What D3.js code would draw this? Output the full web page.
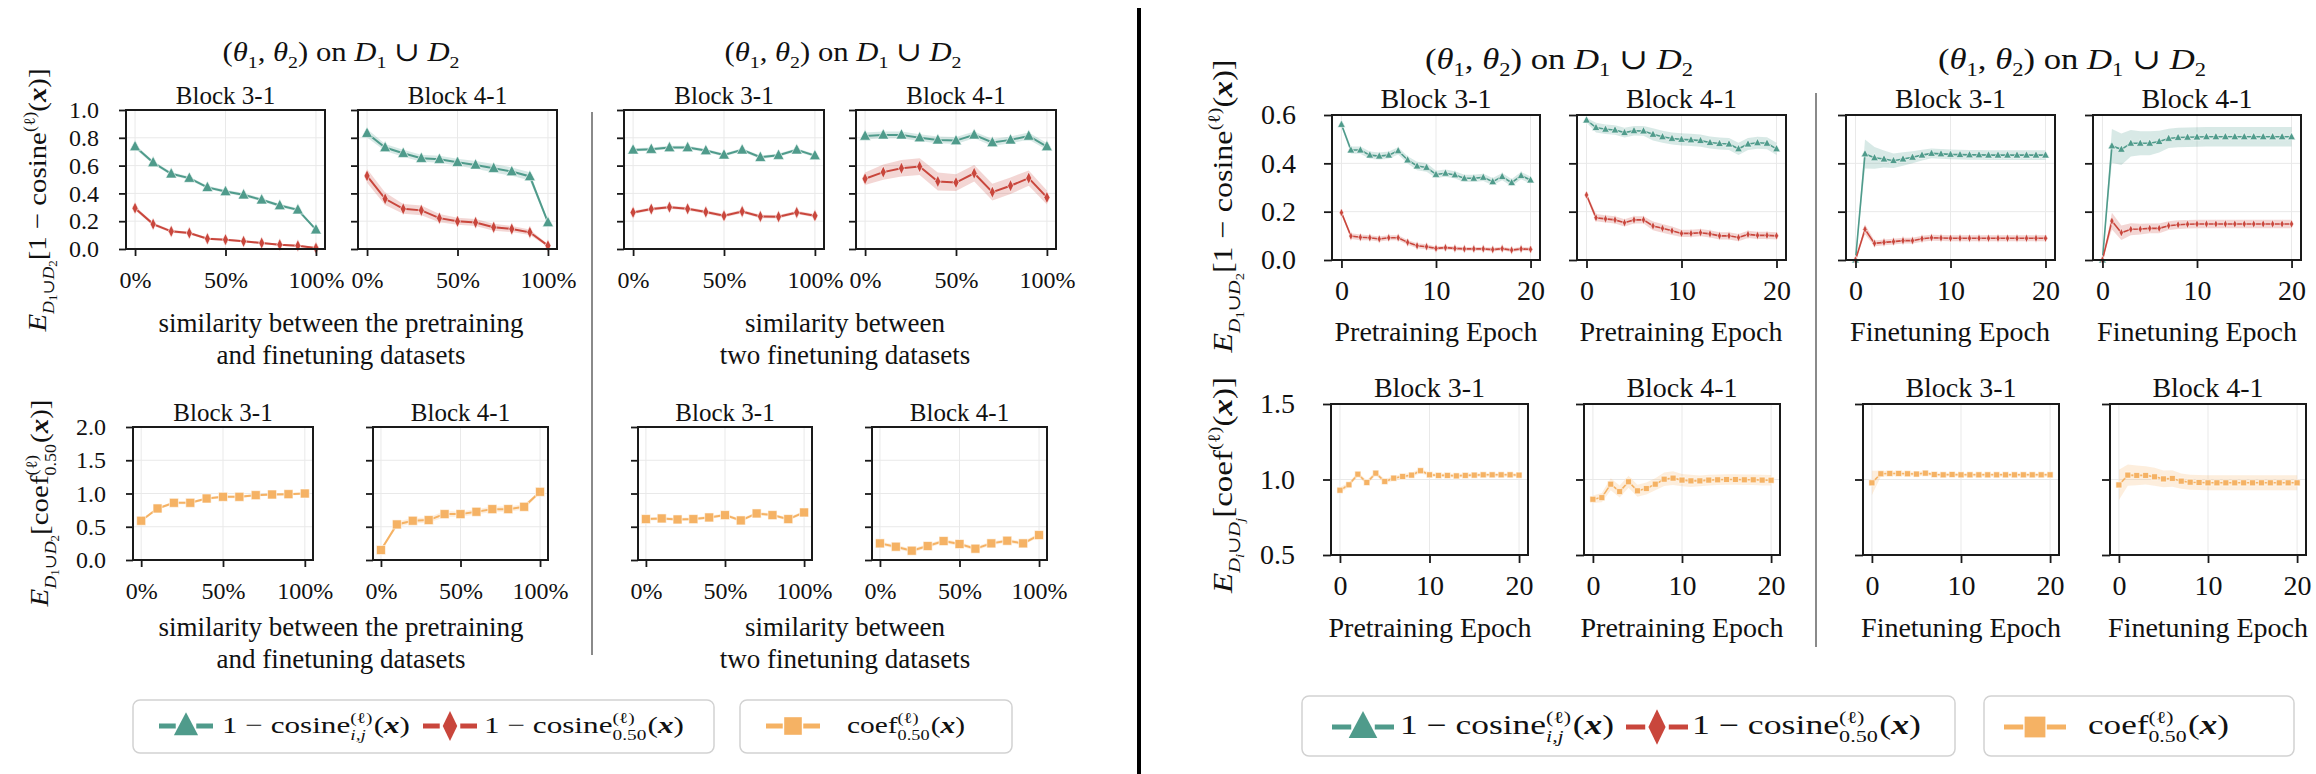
<!DOCTYPE html>
<html>
<head>
<meta charset="utf-8">
<script src="https://cdn.jsdelivr.net/npm/d3@7"></script>
<style>
body { margin: 0; background: #fff; }
svg text { font-family: "Liberation Serif", "DejaVu Serif", serif; fill: #111; }
</style>
</head>
<body>
<div id="chart"></div>
<script>
// x values
const simLevels = [0, 10, 20, 30, 40, 50, 60, 70, 80, 90, 100];
const epochs = [0, 1, 2, 3, 4, 5, 6, 7, 8, 9, 10, 11, 12, 13, 14, 15, 16, 17, 18, 19, 20];

// tick values
const pctTicks = [0, 50, 100];
const epochTicks = [0, 10, 20];
const cosTicksLeft = [0, 0.2, 0.4, 0.6, 0.8, 1.0];
const coefTicksLeft = [0, 0.5, 1.0, 1.5, 2.0];
const cosTicksRight = [0, 0.2, 0.4, 0.6];
const coefTicksRight = [0.5, 1.0, 1.5];
const blockNames = ["Block 3-1", "Block 4-1"];

// left: similarity between the pretraining and finetuning datasets
const cosPairPF3 = [0.737, 0.622, 0.541, 0.51, 0.443, 0.414, 0.39, 0.354, 0.313, 0.282, 0.139];
const cosPairPF3Err = [0.015, 0.013, 0.013, 0.012, 0.012, 0.012, 0.012, 0.012, 0.012, 0.012, 0.01];
const cosMedPF3 = [0.294, 0.179, 0.127, 0.115, 0.074, 0.067, 0.055, 0.043, 0.031, 0.024, 0.007];
const cosMedPF3Err = [0.016, 0.012, 0.01, 0.01, 0.008, 0.008, 0.008, 0.007, 0.007, 0.007, 0.005];
const cosPairPF4 = [0.833, 0.73, 0.689, 0.653, 0.646, 0.624, 0.605, 0.581, 0.557, 0.522, 0.191];
const cosPairPF4Err = [0.03, 0.025, 0.025, 0.025, 0.025, 0.025, 0.028, 0.03, 0.03, 0.03, 0.01];
const cosMedPF4 = [0.526, 0.361, 0.289, 0.278, 0.222, 0.199, 0.191, 0.156, 0.144, 0.12, 0.024];
const cosMedPF4Err = [0.05, 0.045, 0.035, 0.035, 0.03, 0.025, 0.025, 0.025, 0.022, 0.02, 0.01];
// left: similarity between two finetuning datasets
const cosPairFF3 = [0.713, 0.718, 0.73, 0.73, 0.708, 0.677, 0.713, 0.66, 0.675, 0.713, 0.672];
const cosPairFF3Err = [0.012, 0.012, 0.012, 0.012, 0.012, 0.012, 0.012, 0.012, 0.012, 0.012, 0.012];
const cosMedFF3 = [0.263, 0.287, 0.301, 0.289, 0.266, 0.239, 0.27, 0.234, 0.232, 0.263, 0.239];
const cosMedFF3Err = [0.012, 0.012, 0.012, 0.012, 0.012, 0.012, 0.012, 0.012, 0.012, 0.012, 0.012];
const cosPairFF4 = [0.813, 0.821, 0.821, 0.801, 0.785, 0.78, 0.821, 0.766, 0.785, 0.813, 0.737];
const cosPairFF4Err = [0.025, 0.025, 0.025, 0.025, 0.025, 0.025, 0.025, 0.025, 0.025, 0.025, 0.025];
const cosMedFF4 = [0.505, 0.553, 0.581, 0.593, 0.486, 0.478, 0.545, 0.409, 0.455, 0.51, 0.371];
const cosMedFF4Err = [0.045, 0.055, 0.06, 0.06, 0.065, 0.06, 0.06, 0.06, 0.06, 0.055, 0.05];
const coefPF3 = [0.59, 0.775, 0.86, 0.86, 0.925, 0.95, 0.95, 0.975, 0.985, 0.99, 1.0];
const coefPF3Err = [0.02, 0.02, 0.02, 0.02, 0.02, 0.02, 0.02, 0.02, 0.02, 0.02, 0.02];
const coefPF4 = [0.15, 0.535, 0.59, 0.6, 0.69, 0.69, 0.725, 0.765, 0.765, 0.8, 1.025];
const coefPF4Err = [0.02, 0.04, 0.04, 0.04, 0.045, 0.04, 0.04, 0.04, 0.04, 0.04, 0.02];
const coefFF3 = [0.615, 0.625, 0.61, 0.615, 0.64, 0.675, 0.595, 0.7, 0.675, 0.615, 0.715];
const coefFF3Err = [0.025, 0.025, 0.025, 0.025, 0.025, 0.025, 0.025, 0.025, 0.025, 0.025, 0.025];
const coefFF4 = [0.25, 0.2, 0.14, 0.21, 0.285, 0.24, 0.17, 0.25, 0.29, 0.25, 0.375];
const coefFF4Err = [0.03, 0.03, 0.03, 0.03, 0.03, 0.03, 0.03, 0.03, 0.03, 0.03, 0.03];

// right: pretraining epoch
const cosPairPre3 = [0.561, 0.455, 0.455, 0.434, 0.43, 0.434, 0.452, 0.414, 0.389, 0.383, 0.354, 0.359, 0.352, 0.338, 0.338, 0.342, 0.324, 0.345, 0.32, 0.349, 0.331];
const cosPairPre3Err = [0.01, 0.015, 0.015, 0.015, 0.015, 0.015, 0.015, 0.015, 0.018, 0.018, 0.015, 0.015, 0.015, 0.015, 0.015, 0.015, 0.015, 0.015, 0.015, 0.015, 0.015];
const cosMedPre3 = [0.196, 0.099, 0.094, 0.092, 0.087, 0.092, 0.092, 0.073, 0.059, 0.055, 0.048, 0.051, 0.048, 0.046, 0.046, 0.046, 0.043, 0.047, 0.041, 0.046, 0.044];
const cosMedPre3Err = [0.008, 0.012, 0.012, 0.01, 0.01, 0.01, 0.01, 0.01, 0.01, 0.01, 0.008, 0.008, 0.008, 0.008, 0.008, 0.008, 0.008, 0.008, 0.008, 0.008, 0.008];
const cosPairPre4 = [0.579, 0.548, 0.541, 0.538, 0.527, 0.535, 0.534, 0.52, 0.51, 0.503, 0.499, 0.497, 0.494, 0.486, 0.482, 0.48, 0.46, 0.48, 0.485, 0.483, 0.46];
const cosPairPre4Err = [0.01, 0.02, 0.02, 0.02, 0.02, 0.02, 0.02, 0.025, 0.025, 0.025, 0.025, 0.025, 0.025, 0.025, 0.025, 0.025, 0.025, 0.025, 0.025, 0.025, 0.025];
const cosMedPre4 = [0.269, 0.175, 0.17, 0.166, 0.154, 0.166, 0.166, 0.141, 0.131, 0.121, 0.11, 0.11, 0.113, 0.108, 0.1, 0.1, 0.093, 0.106, 0.102, 0.102, 0.1];
const cosMedPre4Err = [0.01, 0.015, 0.015, 0.015, 0.015, 0.015, 0.015, 0.018, 0.018, 0.018, 0.015, 0.015, 0.015, 0.015, 0.015, 0.015, 0.015, 0.015, 0.015, 0.015, 0.015];
// right: finetuning epoch
const cosPairFt3 = [0.0, 0.439, 0.423, 0.418, 0.411, 0.418, 0.425, 0.434, 0.441, 0.439, 0.437, 0.436, 0.435, 0.435, 0.434, 0.434, 0.434, 0.434, 0.434, 0.434, 0.434];
const cosPairFt3Err = [0.0, 0.06, 0.045, 0.035, 0.03, 0.028, 0.025, 0.022, 0.02, 0.02, 0.02, 0.02, 0.02, 0.02, 0.02, 0.02, 0.02, 0.02, 0.02, 0.02, 0.02];
const cosMedFt3 = [0.0, 0.127, 0.069, 0.073, 0.076, 0.08, 0.08, 0.088, 0.092, 0.091, 0.09, 0.09, 0.09, 0.09, 0.09, 0.09, 0.09, 0.09, 0.09, 0.09, 0.09];
const cosMedFt3Err = [0.0, 0.02, 0.012, 0.012, 0.012, 0.012, 0.012, 0.012, 0.012, 0.012, 0.012, 0.012, 0.012, 0.012, 0.012, 0.012, 0.012, 0.012, 0.012, 0.012, 0.012];
const cosPairFt4 = [0.0, 0.472, 0.458, 0.483, 0.483, 0.483, 0.49, 0.503, 0.507, 0.508, 0.509, 0.51, 0.51, 0.51, 0.51, 0.51, 0.51, 0.51, 0.51, 0.51, 0.51];
const cosPairFt4Err = [0.0, 0.07, 0.065, 0.055, 0.05, 0.05, 0.045, 0.04, 0.04, 0.04, 0.04, 0.04, 0.04, 0.04, 0.04, 0.04, 0.04, 0.04, 0.04, 0.04, 0.04];
const cosMedFt4 = [0.0, 0.161, 0.113, 0.127, 0.128, 0.131, 0.131, 0.142, 0.146, 0.148, 0.149, 0.149, 0.149, 0.149, 0.149, 0.149, 0.149, 0.149, 0.149, 0.149, 0.149];
const cosMedFt4Err = [0.0, 0.035, 0.03, 0.025, 0.022, 0.02, 0.02, 0.018, 0.018, 0.018, 0.018, 0.018, 0.018, 0.018, 0.018, 0.018, 0.018, 0.018, 0.018, 0.018, 0.018];
const coefPre3 = [0.929, 0.965, 1.035, 0.98, 1.042, 0.987, 1.009, 1.02, 1.029, 1.058, 1.031, 1.027, 1.027, 1.024, 1.027, 1.029, 1.031, 1.031, 1.031, 1.031, 1.029];
const coefPre3Err = [0.02, 0.015, 0.015, 0.015, 0.015, 0.015, 0.015, 0.015, 0.015, 0.015, 0.012, 0.012, 0.012, 0.012, 0.012, 0.012, 0.012, 0.012, 0.012, 0.012, 0.012];
const coefPre4 = [0.869, 0.88, 0.969, 0.92, 0.985, 0.925, 0.94, 0.969, 1.002, 1.009, 0.996, 0.991, 0.991, 0.996, 0.998, 1.0, 1.0, 0.998, 0.998, 0.996, 0.995];
const coefPre4Err = [0.025, 0.03, 0.04, 0.04, 0.04, 0.04, 0.04, 0.04, 0.045, 0.045, 0.04, 0.04, 0.035, 0.035, 0.035, 0.035, 0.035, 0.035, 0.035, 0.035, 0.035];
const coefFt3 = [0.978, 1.038, 1.04, 1.04, 1.038, 1.036, 1.042, 1.033, 1.031, 1.033, 1.031, 1.031, 1.031, 1.031, 1.031, 1.031, 1.031, 1.031, 1.031, 1.031, 1.031];
const coefFt3Err = [0.08, 0.02, 0.015, 0.015, 0.015, 0.015, 0.015, 0.012, 0.012, 0.012, 0.012, 0.012, 0.012, 0.012, 0.012, 0.012, 0.012, 0.012, 0.012, 0.012, 0.012];
const coefFt4 = [0.964, 1.029, 1.027, 1.027, 1.018, 1.004, 1.007, 0.989, 0.982, 0.98, 0.978, 0.978, 0.978, 0.978, 0.978, 0.978, 0.978, 0.978, 0.978, 0.978, 0.978];
const coefFt4Err = [0.1, 0.07, 0.065, 0.06, 0.06, 0.055, 0.055, 0.05, 0.05, 0.05, 0.05, 0.05, 0.05, 0.05, 0.05, 0.05, 0.05, 0.05, 0.05, 0.05, 0.05];

const TEAL = "#4f9b8b", RED = "#c9463c", ORANGE = "#f5b264";
const GRID = "#e9e9e9", INK = "#1a1a1a";
const SERIF = "'Liberation Serif', 'DejaVu Serif', serif";

const W = 2316, H = 774;
const svg = d3.select("#chart").append("svg").attr("width", W).attr("height", H);
const defs = svg.append("defs");

// keep spaces when pieces are measured one by one
const nb = s => s.replace(/ /g, "\u00A0");

// lays out a row of text pieces (sub/superscripts, italic, bold) and places it
function mathText(parent, pieces, fs, opt) {
	const g = parent.append("g").attr("font-family", SERIF);
	let cx = 0;
	pieces.forEach(p => {
		if (typeof p === "string") p = {t: p};
		if (p.sup !== undefined || p.sub !== undefined) {
			let w = 0;
			if (p.sup) {
				const t = g.append("text").attr("x", cx).attr("y", -0.42 * fs).attr("font-size", fs * 0.62).text(nb(p.sup));
				w = Math.max(w, t.node().getComputedTextLength());
			}
			if (p.sub) {
				const t = g.append("text").attr("x", cx).attr("y", 0.3 * fs).attr("font-size", fs * 0.62).text(nb(p.sub));
				if (p.subIt) t.attr("font-style", "italic");
				w = Math.max(w, t.node().getComputedTextLength());
			}
			cx += w + fs * 0.04;
		} else {
			const t = g.append("text").attr("x", cx).attr("y", (p.dy || 0) * fs)
				.attr("font-size", fs * (p.size || 1)).text(nb(p.t));
			if (p.it) t.attr("font-style", "italic");
			if (p.bold) t.attr("font-weight", "bold");
			cx += t.node().getComputedTextLength();
		}
	});
	const sx = opt.width ? opt.width / cx : 1;
	const ax = opt.anchor === "start" ? 0 : cx / 2;
	const rot = opt.rotate ? ` rotate(${opt.rotate})` : "";
	g.attr("transform", `translate(${opt.x},${opt.y})${rot} scale(${sx},1) translate(${-ax},0)`);
	return g;
}

function markerPath(kind, s) {
	if (kind === "tri") return `M0,${-s * 0.62}L${s * 0.55},${s * 0.42}L${-s * 0.55},${s * 0.42}Z`;
	if (kind === "dia") return `M0,${-s * 0.62}L${s * 0.3},0L0,${s * 0.62}L${-s * 0.3},0Z`;
	return `M${-s / 2},${-s / 2}h${s}v${s}h${-s}Z`;
}

let clipId = 0;
function drawPanel(p) {
	const g = svg.append("g");
	const ext = d3.extent(p.xs);
	const pad = (ext[1] - ext[0]) * 0.05;
	const x = d3.scaleLinear().domain([ext[0] - pad, ext[1] + pad]).range([p.x0, p.x1]);
	const y = d3.scaleLinear().domain(d3.extent(p.yTicks)).range([p.y1, p.y0]);

	// grid
	g.append("g").selectAll("line").data(p.xTicks).join("line")
		.attr("x1", d => x(d)).attr("x2", d => x(d)).attr("y1", p.y0).attr("y2", p.y1)
		.attr("stroke", GRID).attr("stroke-width", 1);
	g.append("g").selectAll("line").data(p.yTicks).join("line")
		.attr("x1", p.x0).attr("x2", p.x1).attr("y1", d => y(d)).attr("y2", d => y(d))
		.attr("stroke", GRID).attr("stroke-width", 1);

	const id = "clip" + (clipId++);
	defs.append("clipPath").attr("id", id).append("rect")
		.attr("x", p.x0).attr("y", p.y0).attr("width", p.x1 - p.x0).attr("height", p.y1 - p.y0);
	const plot = g.append("g").attr("clip-path", `url(#${id})`);

	p.series.forEach(s => {
		const pts = p.xs.map((xv, i) => ({x: xv, y: s.vals[i], e: s.err[i]}));
		const area = d3.area().x(d => x(d.x)).y0(d => y(d.y - d.e)).y1(d => y(d.y + d.e));
		const line = d3.line().x(d => x(d.x)).y(d => y(d.y));
		plot.append("path").attr("d", area(pts)).attr("fill", s.color).attr("fill-opacity", 0.22);
		plot.append("path").attr("d", line(pts)).attr("fill", "none")
			.attr("stroke", s.color).attr("stroke-width", p.lw);
		g.append("g").selectAll("path").data(pts).join("path")
			.attr("transform", d => `translate(${x(d.x)},${y(d.y)})`)
			.attr("d", markerPath(s.mark, p.ms))
			.attr("fill", s.color).attr("stroke", "#fff").attr("stroke-width", 0.6);
	});

	const ya = d3.axisLeft(y).tickValues(p.yTicks).tickSize(p.tick).tickPadding(p.ypad)
		.tickFormat(p.showY ? d3.format(".1f") : () => "");
	const yg = g.append("g").attr("transform", `translate(${p.x0},0)`).call(ya)
		.attr("font-family", SERIF);
	yg.select(".domain").remove();
	yg.selectAll("line").attr("stroke", INK).attr("stroke-width", 1.8);
	yg.selectAll("text").attr("font-size", p.tickFs).attr("fill", INK);

	const xa = d3.axisBottom(x).tickValues(p.xTicks).tickSize(p.tick).tickPadding(p.xpad)
		.tickFormat(p.xFmt);
	const xg = g.append("g").attr("transform", `translate(0,${p.y1})`).call(xa)
		.attr("font-family", SERIF);
	xg.select(".domain").remove();
	xg.selectAll("line").attr("stroke", INK).attr("stroke-width", 1.8);
	xg.selectAll("text").attr("font-size", p.tickFs).attr("fill", INK);

	g.append("rect").attr("x", p.x0).attr("y", p.y0)
		.attr("width", p.x1 - p.x0).attr("height", p.y1 - p.y0)
		.attr("fill", "none").attr("stroke", INK).attr("stroke-width", 2);

	g.append("text").attr("x", (p.x0 + p.x1) / 2).attr("y", p.titleY)
		.attr("text-anchor", "middle").attr("font-size", p.titleFs).text(p.title);
}

const pctFmt = d => d + "%";
const epFmt = d3.format("d");
const cosSeries = (a, ae, b, be) => [
	{vals: a, err: ae, color: TEAL, mark: "tri"},
	{vals: b, err: be, color: RED, mark: "dia"}
];
const coefSeries = (a, ae) => [{vals: a, err: ae, color: ORANGE, mark: "sq"}];

// left half
const leftTop = {y0: 110, y1: 249, xs: simLevels, xTicks: pctTicks, xFmt: pctFmt, yTicks: cosTicksLeft,
	tick: 7, xpad: 15, ypad: 20, tickFs: 24, titleFs: 25, titleY: 104, lw: 2, ms: 10};
const leftBot = {y0: 427, y1: 560, xs: simLevels, xTicks: pctTicks, xFmt: pctFmt, yTicks: coefTicksLeft,
	tick: 7, xpad: 15, ypad: 20, tickFs: 24, titleFs: 25, titleY: 421, lw: 2, ms: 9};
const rightTop = {y0: 115, y1: 260, xs: epochs, xTicks: epochTicks, xFmt: epFmt, yTicks: cosTicksRight,
	tick: 8, xpad: 12, ypad: 28, tickFs: 28, titleFs: 28, titleY: 108, lw: 1.6, ms: 7};
const rightBot = {y0: 404, y1: 555, xs: epochs, xTicks: epochTicks, xFmt: epFmt, yTicks: coefTicksRight,
	tick: 8, xpad: 12, ypad: 28, tickFs: 28, titleFs: 28, titleY: 397, lw: 1.6, ms: 6};

const panels = [
	{...leftTop, x0: 126, x1: 325, showY: true, title: blockNames[0], series: cosSeries(cosPairPF3, cosPairPF3Err, cosMedPF3, cosMedPF3Err)},
	{...leftTop, x0: 358, x1: 557, title: blockNames[1], series: cosSeries(cosPairPF4, cosPairPF4Err, cosMedPF4, cosMedPF4Err)},
	{...leftTop, x0: 624, x1: 824, title: blockNames[0], series: cosSeries(cosPairFF3, cosPairFF3Err, cosMedFF3, cosMedFF3Err)},
	{...leftTop, x0: 856, x1: 1056, title: blockNames[1], series: cosSeries(cosPairFF4, cosPairFF4Err, cosMedFF4, cosMedFF4Err)},
	{...leftBot, x0: 133, x1: 313, showY: true, title: blockNames[0], series: coefSeries(coefPF3, coefPF3Err)},
	{...leftBot, x0: 373, x1: 548, title: blockNames[1], series: coefSeries(coefPF4, coefPF4Err)},
	{...leftBot, x0: 638, x1: 812, title: blockNames[0], series: coefSeries(coefFF3, coefFF3Err)},
	{...leftBot, x0: 872, x1: 1047, title: blockNames[1], series: coefSeries(coefFF4, coefFF4Err)},
	{...rightTop, x0: 1332, x1: 1540, showY: true, title: blockNames[0], series: cosSeries(cosPairPre3, cosPairPre3Err, cosMedPre3, cosMedPre3Err)},
	{...rightTop, x0: 1577, x1: 1786, title: blockNames[1], series: cosSeries(cosPairPre4, cosPairPre4Err, cosMedPre4, cosMedPre4Err)},
	{...rightTop, x0: 1846, x1: 2055, title: blockNames[0], series: cosSeries(cosPairFt3, cosPairFt3Err, cosMedFt3, cosMedFt3Err)},
	{...rightTop, x0: 2093, x1: 2301, title: blockNames[1], series: cosSeries(cosPairFt4, cosPairFt4Err, cosMedFt4, cosMedFt4Err)},
	{...rightBot, x0: 1331, x1: 1528, showY: true, title: blockNames[0], series: coefSeries(coefPre3, coefPre3Err)},
	{...rightBot, x0: 1584, x1: 1780, title: blockNames[1], series: coefSeries(coefPre4, coefPre4Err)},
	{...rightBot, x0: 1863, x1: 2059, title: blockNames[0], series: coefSeries(coefFt3, coefFt3Err)},
	{...rightBot, x0: 2110, x1: 2306, title: blockNames[1], series: coefSeries(coefFt4, coefFt4Err)}
];
panels.forEach(drawPanel);

// group titles
const sub = t => ({t, size: 0.65, dy: 0.25});
const titlePieces = ["(", {t: "θ", it: true}, sub("1"), ", ", {t: "θ", it: true}, sub("2"), ") on ",
	{t: "D", it: true}, sub("1"), " ∪ ", {t: "D", it: true}, sub("2")];
mathText(svg, titlePieces, 27, {x: 341, y: 61, width: 237});
mathText(svg, titlePieces, 27, {x: 843, y: 61, width: 237});
mathText(svg, titlePieces, 29, {x: 1559, y: 69, width: 268});
mathText(svg, titlePieces, 29, {x: 2072, y: 69, width: 268});

// x labels
function xlabel(lines, cx, y, fs, gap) {
	lines.forEach((l, i) => svg.append("text").attr("x", cx).attr("y", y + i * gap)
		.attr("text-anchor", "middle").attr("font-size", fs).text(l));
}
const pfLabel = ["similarity between the pretraining", "and finetuning datasets"];
const ffLabel = ["similarity between", "two finetuning datasets"];
xlabel(pfLabel, 341, 332, 27, 32);
xlabel(ffLabel, 845, 332, 27, 32);
xlabel(pfLabel, 341, 636, 27, 32);
xlabel(ffLabel, 845, 636, 27, 32);
[[1436, "Pretraining Epoch"], [1681, "Pretraining Epoch"], [1950, "Finetuning Epoch"], [2197, "Finetuning Epoch"]]
	.forEach(([cx, t]) => xlabel([t], cx, 341, 28, 0));
[[1430, "Pretraining Epoch"], [1682, "Pretraining Epoch"], [1961, "Finetuning Epoch"], [2208, "Finetuning Epoch"]]
	.forEach(([cx, t]) => xlabel([t], cx, 637, 28, 0));

// y labels
const xBold = {t: "x", it: true, bold: true};
const dSub = (a, b) => [{t: "E", it: true}, {t: "D", it: true, size: 0.62, dy: 0.3}, {t: a, size: 0.45, dy: 0.42, it: a === "i"},
	{t: "∪", size: 0.62, dy: 0.3}, {t: "D", it: true, size: 0.62, dy: 0.3}, {t: b, size: 0.45, dy: 0.42, it: b === "j"}];
const yCos = [...dSub("1", "2"), "[1 − cosine", {t: "(ℓ)", size: 0.62, dy: -0.42}, "(", xBold, ")]"];
const yCoefL = [...dSub("1", "2"), "[coef", {sup: "(ℓ)", sub: "0.50"}, "(", xBold, ")]"];
const yCoefR = [...dSub("i", "j"), "[coef", {t: "(ℓ)", size: 0.62, dy: -0.42}, "(", xBold, ")]"];
mathText(svg, yCos, 26, {x: 46, y: 200, rotate: -90, width: 263});
mathText(svg, yCoefL, 26, {x: 48, y: 503, rotate: -90, width: 207});
mathText(svg, yCos, 28, {x: 1232, y: 206, rotate: -90, width: 293});
mathText(svg, yCoefR, 28, {x: 1232, y: 485, rotate: -90, width: 216});

// separators
svg.append("line").attr("x1", 592).attr("x2", 592).attr("y1", 112).attr("y2", 655)
	.attr("stroke", "#8a8a8a").attr("stroke-width", 2);
svg.append("line").attr("x1", 1816).attr("x2", 1816).attr("y1", 93).attr("y2", 647)
	.attr("stroke", "#8a8a8a").attr("stroke-width", 2);
svg.append("line").attr("x1", 1139).attr("x2", 1139).attr("y1", 8).attr("y2", H)
	.attr("stroke", "#000").attr("stroke-width", 4);

// legends
const legCos1 = ["1 − cosine", {sup: "(ℓ)", sub: "i,j", subIt: true}, "(", xBold, ")"];
const legCos2 = ["1 − cosine", {sup: "(ℓ)", sub: "0.50"}, "(", xBold, ")"];
const legCoef = ["coef", {sup: "(ℓ)", sub: "0.50"}, "(", xBold, ")"];

function legendBox(x0, y0, x1, y1) {
	svg.append("rect").attr("x", x0).attr("y", y0).attr("width", x1 - x0).attr("height", y1 - y0)
		.attr("rx", 7).attr("fill", "#fff").attr("stroke", "#d2d2d2").attr("stroke-width", 1.5);
}
function legendHandle(cx, cy, color, mark, s, half) {
	[[-half, -half * 0.38], [half * 0.38, half]].forEach(([a, b]) => {
		svg.append("line").attr("x1", cx + a).attr("x2", cx + b).attr("y1", cy).attr("y2", cy)
			.attr("stroke", color).attr("stroke-width", 5);
	});
	svg.append("path").attr("transform", `translate(${cx},${cy})`)
		.attr("d", markerPath(mark, s)).attr("fill", color);
}
function legendSet(o) {
	legendBox(o.x0, o.y0, o.x1, o.y1);
	legendBox(o.x2, o.y0, o.x3, o.y1);
	legendHandle(o.h[0], o.cy, TEAL, "tri", o.ms, o.half);
	legendHandle(o.h[1], o.cy, RED, "dia", o.ms * 1.1, o.half);
	legendHandle(o.h[2], o.cy, ORANGE, "sq", o.ms * 0.8, o.half);
	mathText(svg, legCos1, o.fs, {x: o.tx[0], y: o.cy + 7, width: o.tw[0], anchor: "start"});
	mathText(svg, legCos2, o.fs, {x: o.tx[1], y: o.cy + 7, width: o.tw[1], anchor: "start"});
	mathText(svg, legCoef, o.fs, {x: o.tx[2], y: o.cy + 7, width: o.tw[2], anchor: "start"});
}
legendSet({x0: 133, x1: 714, x2: 740, x3: 1012, y0: 700, y1: 753, cy: 726, h: [186, 450, 793],
	tx: [222, 484, 847], tw: [188, 200, 118], fs: 24, ms: 22, half: 27});
legendSet({x0: 1302, x1: 1955, x2: 1984, x3: 2294, y0: 696, y1: 756, cy: 727, h: [1363, 1657, 2035],
	tx: [1400, 1692, 2088], tw: [214, 229, 141], fs: 27, ms: 26, half: 31});
</script>
</body>
</html>
